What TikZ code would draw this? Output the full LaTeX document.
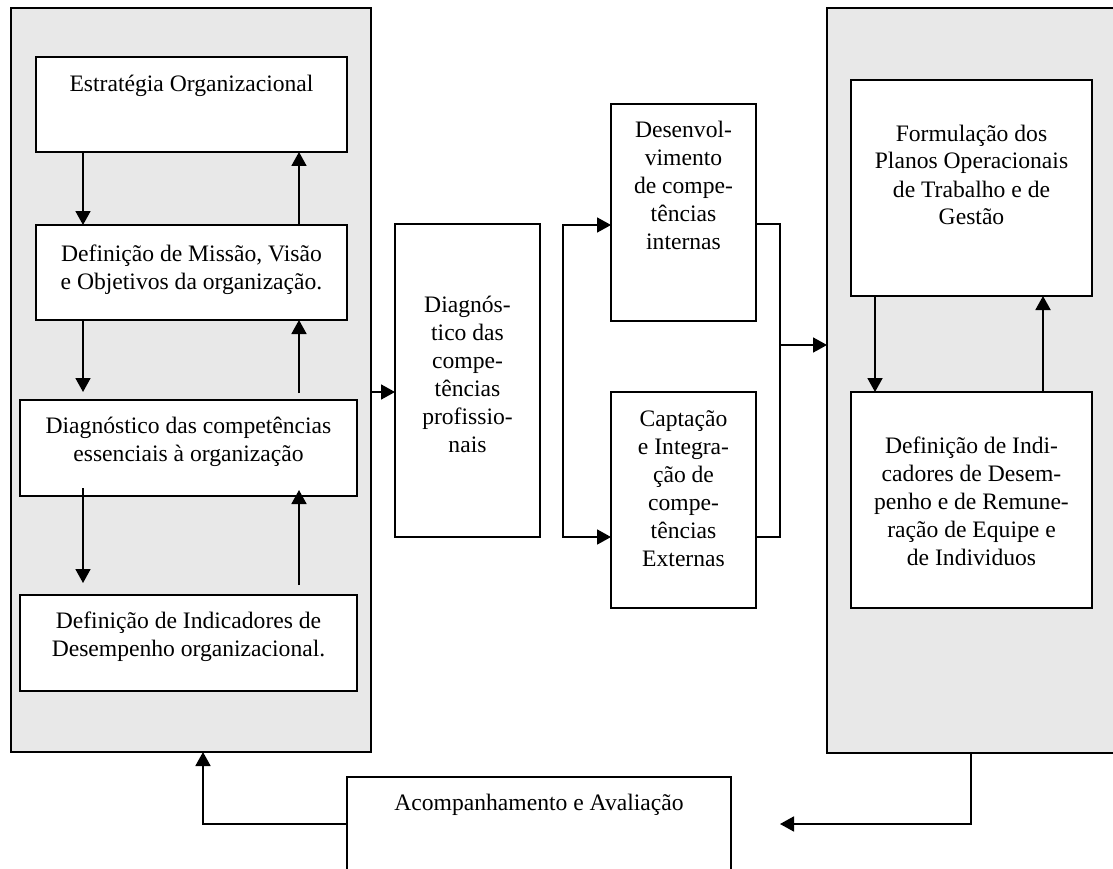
\documentclass[tikz,border=0pt]{standalone}
\usepackage{fontspec}
\setmainfont{Liberation Serif}
\usetikzlibrary{arrows.meta,calc}
\definecolor{panelgray}{RGB}{232,232,232}
\newcommand{\fl}{\rule{0pt}{19pt}}
\tikzset{
  panelbox/.style={draw, line width=1.8pt, fill=panelgray, inner sep=0, outer sep=0},
  wbox/.style={draw, line width=1.8pt, fill=white, inner sep=0, outer sep=0},
  txt/.style={anchor=north, inner sep=0, outer sep=0, align=center, font=\fontsize{23.6pt}{28pt}\selectfont},
  ln/.style={draw, line width=1.8pt},
  arr/.style={draw, line width=1.8pt, -{Triangle[length=14pt,width=15pt]}}
}
\begin{document}
\begin{tikzpicture}[x=1pt,y=-1pt]
\useasboundingbox (0,0) rectangle (1113,869);
\clip (0,0) rectangle (1113,869);
% panels
\node[panelbox, minimum width=360pt, minimum height=744pt] (L) at (191,380) {};
\node[panelbox, minimum width=313pt, minimum height=745pt] (R) at (983.5,380.5) {};
% left boxes
\node[wbox, minimum width=311pt, minimum height=95pt] (b1) at (191.5,104.5) {};
\node[wbox, minimum width=311pt, minimum height=95pt] (b2) at (191.5,272.5) {};
\node[wbox, minimum width=337pt, minimum height=96pt] (b3) at (188.5,448) {};
\node[wbox, minimum width=337pt, minimum height=96pt] (b4) at (188.5,643) {};
% middle boxes
\node[wbox, minimum width=145pt, minimum height=313pt] (diag) at (467.5,380.5) {};
\node[wbox, minimum width=145pt, minimum height=217pt] (dev) at (683.5,212.5) {};
\node[wbox, minimum width=145pt, minimum height=216pt] (cap) at (683.5,500) {};
% right boxes
\node[wbox, minimum width=241pt, minimum height=216pt] (form) at (971.5,188) {};
\node[wbox, minimum width=241pt, minimum height=216pt] (ind) at (971.5,500) {};
% bottom box
\node[wbox, minimum width=384pt, minimum height=123pt] (acomp) at (539,838.5) {};
% texts
\node[txt] (t1) at ($(b1.north)+(0,16)$) {\fl Estratégia Organizacional};
\node[txt] (t2) at ($(b2.north)+(0,17)$) {\fl Definição de Missão, Visão\\e Objetivos da organização.};
\node[txt] (t3) at ($(b3.north)+(0,14)$) {\fl Diagnóstico das competências\\essenciais à organização};
\node[txt] (t4) at ($(b4.north)+(0,14)$) {\fl Definição de Indicadores de\\Desempenho organizacional.};
\node[txt] (t5) at ($(diag.north)+(0,69)$) {\fl Diagnós-\\tico das\\compe-\\tências\\profissio-\\nais};
\node[txt] (t6) at ($(dev.north)+(0,14)$) {\fl Desenvol-\\vimento\\de compe-\\tências\\internas};
\node[txt] (t7) at ($(cap.north)+(0,15)$) {\fl Captação\\e Integra-\\ção de\\compe-\\tências\\Externas};
\node[txt] (t8) at ($(form.north)+(0,42)$) {\fl Formulação dos\\Planos Operacionais\\de Trabalho e de\\Gestão};
\node[txt] (t9) at ($(ind.north)+(0,42)$) {\fl Definição de Indi-\\cadores de Desem-\\penho e de Remune-\\ração de Equipe e\\de Individuos};
\node[txt] (t10) at ($(acomp.north)+(0,14)$) {\fl Acompanhamento e Avaliação};
% coordinates
\coordinate (xl) at (83,0);
\coordinate (xr) at (299,0);
\coordinate (ya) at (0,392);
\coordinate (bt) at (563,225);
\coordinate (bb) at (563,537);
\coordinate (mt) at (780,224);
\coordinate (mb) at (780,537);
\coordinate (mm) at (780,345);
\coordinate (xd) at (875,0);
\coordinate (xu) at (1043,0);
\coordinate (rb) at (971,824);
\coordinate (ab) at (780,824);
\coordinate (lb) at (203,824);
% left column arrows
\draw[arr] (b1.south -| xl) -- (b2.north -| xl);
\draw[arr] (b2.north -| xr) -- (b1.south -| xr);
\draw[arr, shorten >=8pt] (b2.south -| xl) -- (b3.north -| xl);
\draw[arr, shorten <=7pt] (b3.north -| xr) -- (b2.south -| xr);
\draw[arr, shorten <=-8pt, shorten >=12pt] (b3.south -| xl) -- (b4.north -| xl);
\draw[arr, shorten <=10pt, shorten >=-6pt] (b4.north -| xr) -- (b3.south -| xr);
% left panel to diagnostic
\draw[arr] (L.east |- ya) -- (diag.west |- ya);
% branch
\draw[arr] (bb) -- (bt) -- (dev.west |- bt);
\draw[arr] (bt) -- (bb) -- (cap.west |- bb);
% merge
\draw[ln] (dev.east |- mt) -- (mt) -- (mb) -- (cap.east |- mb);
\draw[arr] (mm) -- (R.west |- mm);
% right column arrows
\draw[arr] (form.south -| xd) -- (ind.north -| xd);
\draw[arr] (ind.north -| xu) -- (form.south -| xu);
% bottom loop
\draw[arr] (R.south -| rb) -- (rb) -- (ab);
\draw[arr] (acomp.west |- lb) -- (lb) -- (L.south -| lb);
\end{tikzpicture}
\end{document}
